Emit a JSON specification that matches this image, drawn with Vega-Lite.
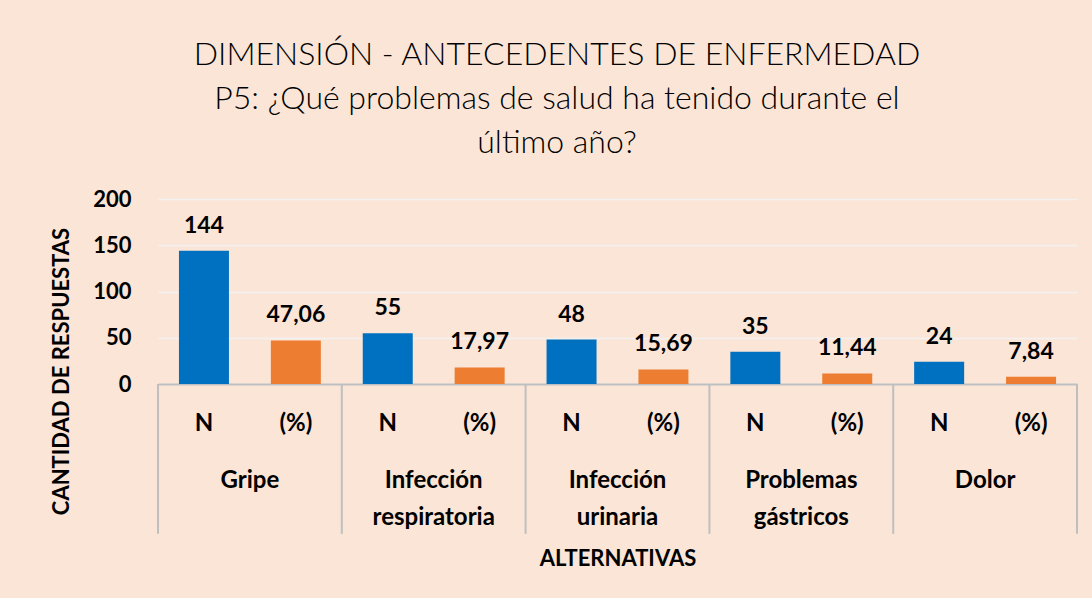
{
  "$schema": "https://vega.github.io/schema/vega-lite/v6.json",
  "width": 919,
  "height": 185,
  "padding": {"left": 49, "top": 39, "right": 15, "bottom": 31},
  "background": "#FBE5D6",
  "config": {"view": {"stroke": null}, "font": "Lato"},
  "title": {
    "text": ["DIMENSIÓN - ANTECEDENTES DE ENFERMEDAD", "P5: ¿Qué problemas de salud ha tenido durante el", "último año?"],
    "fontSize": 32,
    "fontWeight": 300,
    "font": "Lato",
    "lineHeight": 44,
    "anchor": "middle",
    "frame": "bounds",
    "dx": -7,
    "offset": 28,
    "color": "#000000"
  },
  "data": {
    "values": [
      {"group": "Gripe", "sub": "N", "value": 144},
      {"group": "Gripe", "sub": "(%)", "value": 47.06},
      {"group": "Infección respiratoria", "sub": "N", "value": 55},
      {"group": "Infección respiratoria", "sub": "(%)", "value": 17.97},
      {"group": "Infección urinaria", "sub": "N", "value": 48},
      {"group": "Infección urinaria", "sub": "(%)", "value": 15.69},
      {"group": "Problemas gástricos", "sub": "N", "value": 35},
      {"group": "Problemas gástricos", "sub": "(%)", "value": 11.44},
      {"group": "Dolor", "sub": "N", "value": 24},
      {"group": "Dolor", "sub": "(%)", "value": 7.84}
    ]
  },
  "transform": [
    {"calculate": "datum.sub == 'N' ? format(datum.value, 'd') : replace(format(datum.value, '.2f'), '.', ',')", "as": "lbl"}
  ],
  "encoding": {
    "x": {
      "field": "group",
      "type": "nominal",
      "sort": null,
      "title": "ALTERNATIVAS",
      "scale": {"paddingInner": 0, "paddingOuter": 0},
      "axis": {
        "titleFontSize": 22,
        "titleFontWeight": "bold",
        "titleColor": "#000000",
        "titleY": 174,
        "titleBaseline": "middle",
        "labels": false,
        "ticks": false,
        "domain": true,
        "domainColor": "#BFBFBF",
        "domainWidth": 2,
        "grid": false
      }
    },
    "y": {
      "field": "value",
      "type": "quantitative",
      "title": "CANTIDAD DE RESPUESTAS",
      "scale": {"domain": [0, 200]},
      "axis": {
        "values": [0, 50, 100, 150, 200],
        "titleFontSize": 22,
        "titleFontWeight": "bold",
        "titleColor": "#000000",
        "titleX": -97,
        "titleY": 172,
        "titleAngle": -90,
        "titleBaseline": "middle",
        "titleAlign": "center",
        "labelFontSize": 22,
        "labelFontWeight": "bold",
        "labelColor": "#000000",
        "labelPadding": 27,
        "domain": false,
        "ticks": false,
        "grid": true,
        "gridColor": "#F2F2F2",
        "gridWidth": 1.5
      }
    }
  },
  "layer": [
    {
      "mark": {"type": "bar"},
      "encoding": {
        "xOffset": {"field": "sub", "type": "nominal", "scale": {"domain": ["N", "(%)"], "paddingInner": 0.456, "paddingOuter": 0.228}},
        "color": {
          "field": "sub",
          "type": "nominal",
          "scale": {"domain": ["N", "(%)"], "range": ["#0070C0", "#ED7D31"]},
          "legend": null
        }
      }
    },
    {
      "mark": {"type": "text", "fontSize": 23, "fontWeight": "bold", "dy": -18, "baseline": "alphabetic", "color": "#000000"},
      "encoding": {
        "xOffset": {"field": "sub", "type": "nominal", "scale": {"domain": ["N", "(%)"], "paddingInner": 0.456, "paddingOuter": 0.228}},
        "text": {"field": "lbl"}
      }
    },
    {
      "mark": {"type": "text", "fontSize": 24, "fontWeight": "bold", "baseline": "top", "color": "#000000"},
      "encoding": {
        "xOffset": {"field": "sub", "type": "nominal", "scale": {"domain": ["N", "(%)"], "paddingInner": 0.456, "paddingOuter": 0.228}},
        "y": {"datum": -30, "type": "quantitative", "title": "CANTIDAD DE RESPUESTAS"},
        "text": {"field": "sub"}
      }
    },
    {
      "transform": [{"filter": "datum.sub == 'N'"}],
      "mark": {"type": "text", "fontSize": 24, "fontWeight": "bold", "baseline": "top", "lineBreak": " ", "lineHeight": 37, "color": "#000000"},
      "encoding": {
        "y": {"datum": -92, "type": "quantitative", "title": "CANTIDAD DE RESPUESTAS"},
        "text": {"field": "group"}
      }
    },
    {
      "transform": [{"filter": "datum.sub == 'N'"}],
      "mark": {"type": "rule", "color": "#BFBFBF", "strokeWidth": 2},
      "encoding": {
        "x": {"field": "group", "type": "nominal", "sort": null, "bandPosition": 0, "title": "ALTERNATIVAS"},
        "y": {"datum": 0, "type": "quantitative", "title": "CANTIDAD DE RESPUESTAS"},
        "y2": {"datum": -162}
      }
    },
    {
      "transform": [{"filter": "datum.sub == 'N' && datum.group == 'Dolor'"}],
      "mark": {"type": "rule", "color": "#BFBFBF", "strokeWidth": 2},
      "encoding": {
        "x": {"field": "group", "type": "nominal", "sort": null, "bandPosition": 1, "title": "ALTERNATIVAS"},
        "y": {"datum": 0, "type": "quantitative", "title": "CANTIDAD DE RESPUESTAS"},
        "y2": {"datum": -162}
      }
    }
  ]
}
